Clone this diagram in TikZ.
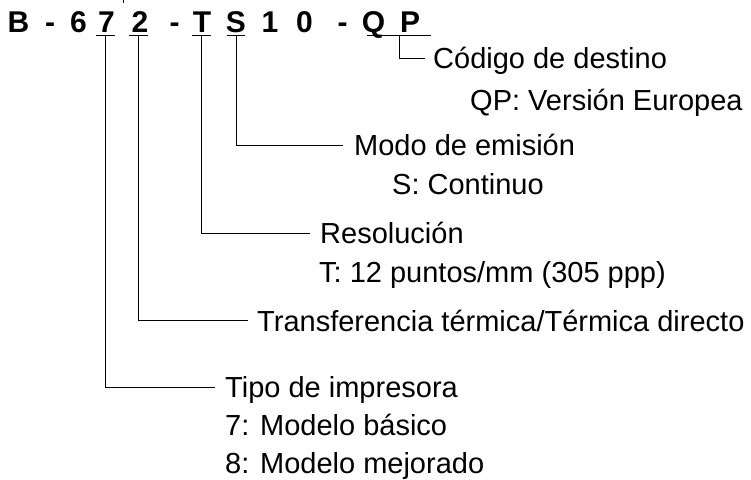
\documentclass[tikz,border=0pt]{standalone}
\usepackage{fontspec}
\setmainfont{Liberation Sans}
\usetikzlibrary{positioning}
\tikzset{
  code/.style={font=\bfseries\fontsize{30}{32}\selectfont,inner sep=0,anchor=base},
  lbl/.style={anchor=base west,inner sep=0,font=\fontsize{29}{34}\selectfont},
  lead/.style={line width=0.9pt},
}

\begin{document}
\begin{tikzpicture}[x=1pt,y=-1pt]
\useasboundingbox (0,0) rectangle (751,479);
% model code
\node[code] (b) at (18.5,32) {B};
\node[code] (d1) at (50,32) {-};
\node[code] (c6) at (78.5,32) {6};
\node[code] (c7) at (106.5,32) {7};
\node[code] (c2) at (140,32) {2};
\node[code] (d2) at (174.5,32) {-};
\node[code] (ct) at (202,32) {T};
\node[code] (cs) at (236,32) {S};
\node[code] (c1) at (270,32) {1};
\node[code] (c0) at (304.5,32) {0};
\node[code] (d3) at (342.5,32) {-};
\node[code] (cq) at (373.5,32) {Q};
\node[code] (cp) at (410,32) {P};
\draw[lead] (123,0) -- (123,3);
% underlines
\coordinate (u7) at (105,35);
\coordinate (u2) at (138,35);
\coordinate (ut) at (201,35);
\coordinate (us) at (236,35);
\coordinate (uqp) at (399,35);
\draw[lead] (96,35) -- (115,35);
\draw[lead] (129,35) -- (148,35);
\draw[lead] (192,35) -- (211,35);
\draw[lead] (227,35) -- (245,35);
\draw[lead] (367,35) -- (431,35);
% texts
\node[lbl] (dest) at (433,68) {Código de destino};
\node[lbl] (qp) at (470,110) {QP: Versión Europea};
\node[lbl] (modo) at (354,155) {Modo de emisión};
\node[lbl] (cont) at (392,194) {S: Continuo};
\node[lbl] (res) at (320,243) {Resolución};
\node[lbl] (ppp) at (319,282) {T: 12 puntos/mm (305 ppp)};
\node[lbl] (trans) at (257,331) {Transferencia térmica/Térmica directo};
\node[lbl] (tipo) at (225,397) {Tipo de impresora};
\node[lbl] (bas) at (225,435) {7: Modelo básico};
\node[lbl] (mej) at (225,473) {8: Modelo mejorado};
% leaders
\draw[lead] (uqp) |- ([shift={(-8,-10)}]dest.base west);
\draw[lead] (us) |- ([shift={(-11,-10)}]modo.base west);
\draw[lead] (ut) |- ([shift={(-10,-10)}]res.base west);
\draw[lead] (u2) |- ([shift={(-9,-11)}]trans.base west);
\draw[lead] (u7) |- ([shift={(-10,-10)}]tipo.base west);
\end{tikzpicture}
\end{document}
